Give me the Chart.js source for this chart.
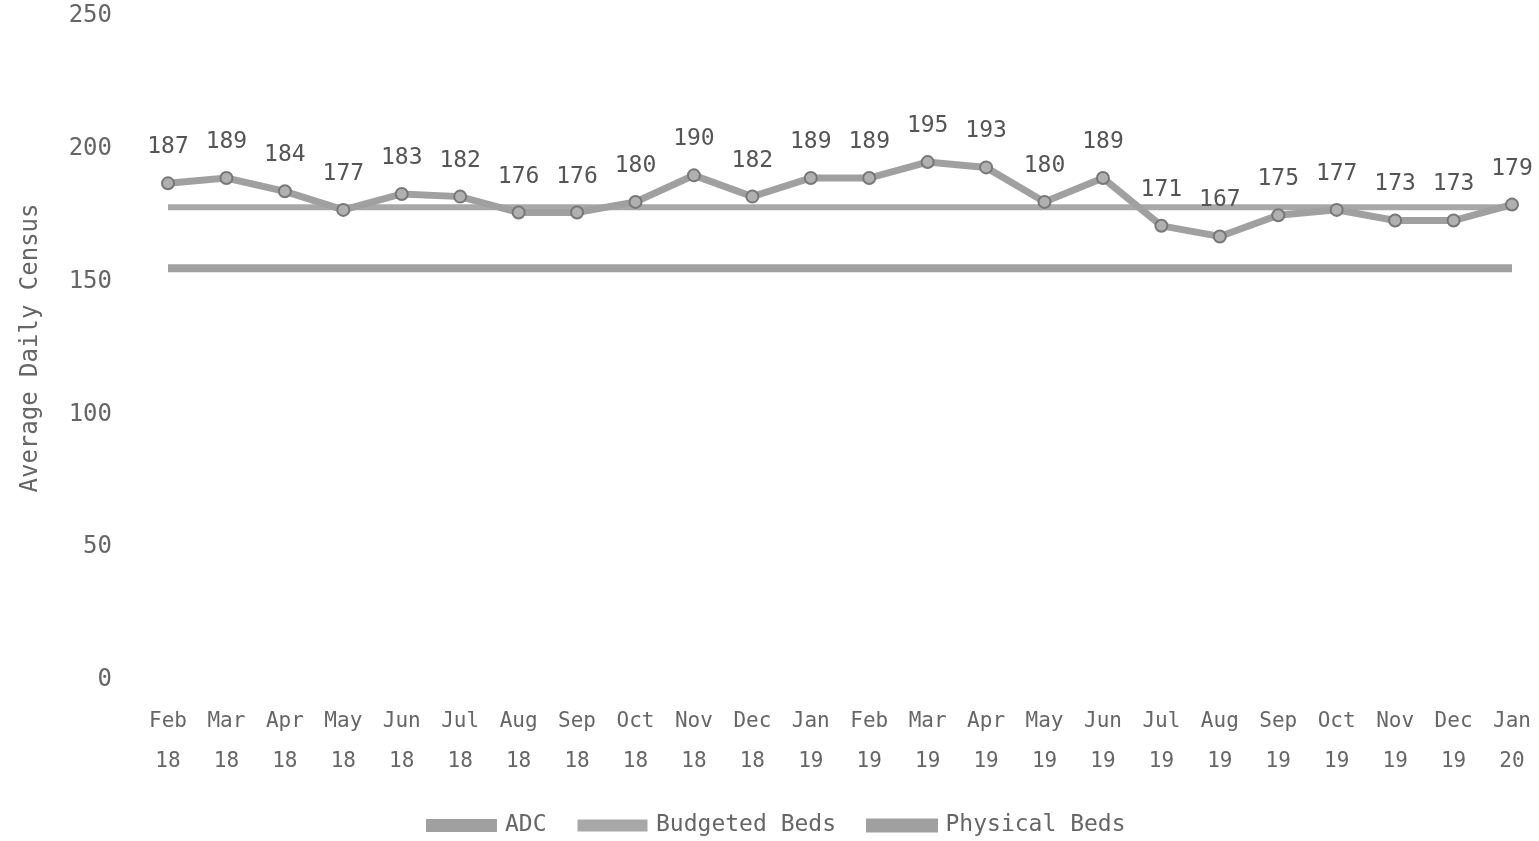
<!DOCTYPE html>
<html>
<head>
<meta charset="utf-8">
<script src="https://cdn.jsdelivr.net/npm/chart.js@4"></script>
<style>
html,body{margin:0;padding:0;background:#fff;}
#wrap{width:1539px;height:841px;}
</style>
</head>
<body>
<div id="wrap"><canvas id="c" width="1539" height="841"></canvas></div>
<script>
const months = ["Feb","Mar","Apr","May","Jun","Jul","Aug","Sep","Oct","Nov","Dec","Jan","Feb","Mar","Apr","May","Jun","Jul","Aug","Sep","Oct","Nov","Dec","Jan"];
const years = ["18","18","18","18","18","18","18","18","18","18","18","19","19","19","19","19","19","19","19","19","19","19","19","20"];
const adc = [187,189,184,177,183,182,176,176,180,190,182,189,189,195,193,180,189,171,167,175,177,173,173,179];
const budgetedBeds = [178,178,178,178,178,178,178,178,178,178,178,178,178,178,178,178,178,178,178,178,178,178,178,178];
const physicalBeds = [155,155,155,155,155,155,155,155,155,155,155,155,155,155,155,155,155,155,155,155,155,155,155,155];
const yTicks = [0,50,100,150,200,250];

const labels = months.map((m,i)=>[m, years[i]]);
const FONT = '"DejaVu Sans Mono", monospace';

const valueLabels = {
  id:'valueLabels',
  afterDatasetsDraw(chart){
    const ctx = chart.ctx;
    const meta = chart.getDatasetMeta(0);
    ctx.save();
    ctx.font = '23px ' + FONT;
    ctx.fillStyle = '#555';
    ctx.textAlign = 'center';
    ctx.textBaseline = 'middle';
    meta.data.forEach((pt,i)=>{
      ctx.fillText(String(adc[i]), pt.x, pt.y - 36);
    });
    ctx.restore();
  }
};

new Chart(document.getElementById('c'), {
  type:'line',
  data:{
    labels: labels,
    datasets:[
      {label:'ADC', data:adc, borderColor:'#a0a0a0', backgroundColor:'#a0a0a0', borderWidth:7, pointRadius:6, pointStyle:'circle', pointBackgroundColor:'#b0b0b0', pointBorderColor:'#777', pointBorderWidth:2, tension:0},
      {label:'Budgeted Beds', data:budgetedBeds, borderColor:'#a8a8a8', backgroundColor:'#a8a8a8', borderWidth:6, pointRadius:0, tension:0},
      {label:'Physical Beds', data:physicalBeds, borderColor:'#a0a0a0', backgroundColor:'#a0a0a0', borderWidth:8, pointRadius:0, tension:0}
    ]
  },
  options:{
    responsive:false,
    animation:false,
    layout:{padding:{left:16,right:0,top:16,bottom:0}},
    plugins:{
      legend:{
        position:'bottom',
        maxHeight:61,
        labels:{
          font:{size:23,family:FONT},
          color:'#666',
          boxWidth:64, boxHeight:6,
          padding:34
        }
      },
      tooltip:{enabled:false}
    },
    scales:{
      x:{
        offset:false,
        grid:{display:false, drawTicks:false},
        border:{display:false},
        afterFit(scale){ scale.paddingLeft = 0; scale.paddingRight = 27; scale.height = 100; },
        ticks:{
          font:{size:21,family:FONT, lineHeight:1.9},
          color:'#666', maxRotation:0, autoSkip:false, padding:22
        }
      },
      y:{
        min:0, max:250,
        afterBuildTicks(axis){ axis.ticks = yTicks.map(v=>({value:v})); },
        afterFit(scale){ scale.width = 152; scale.paddingTop = 0; scale.paddingBottom = 0; },
        grid:{display:false, drawTicks:false},
        border:{display:false},
        title:{display:true, text:'Average Daily Census', font:{size:24,family:FONT}, color:'#666', padding:{top:0,bottom:0}},
        ticks:{font:{size:24,family:FONT}, color:'#666', padding:56}
      }
    }
  },
  plugins:[valueLabels]
});
</script>
</body>
</html>
